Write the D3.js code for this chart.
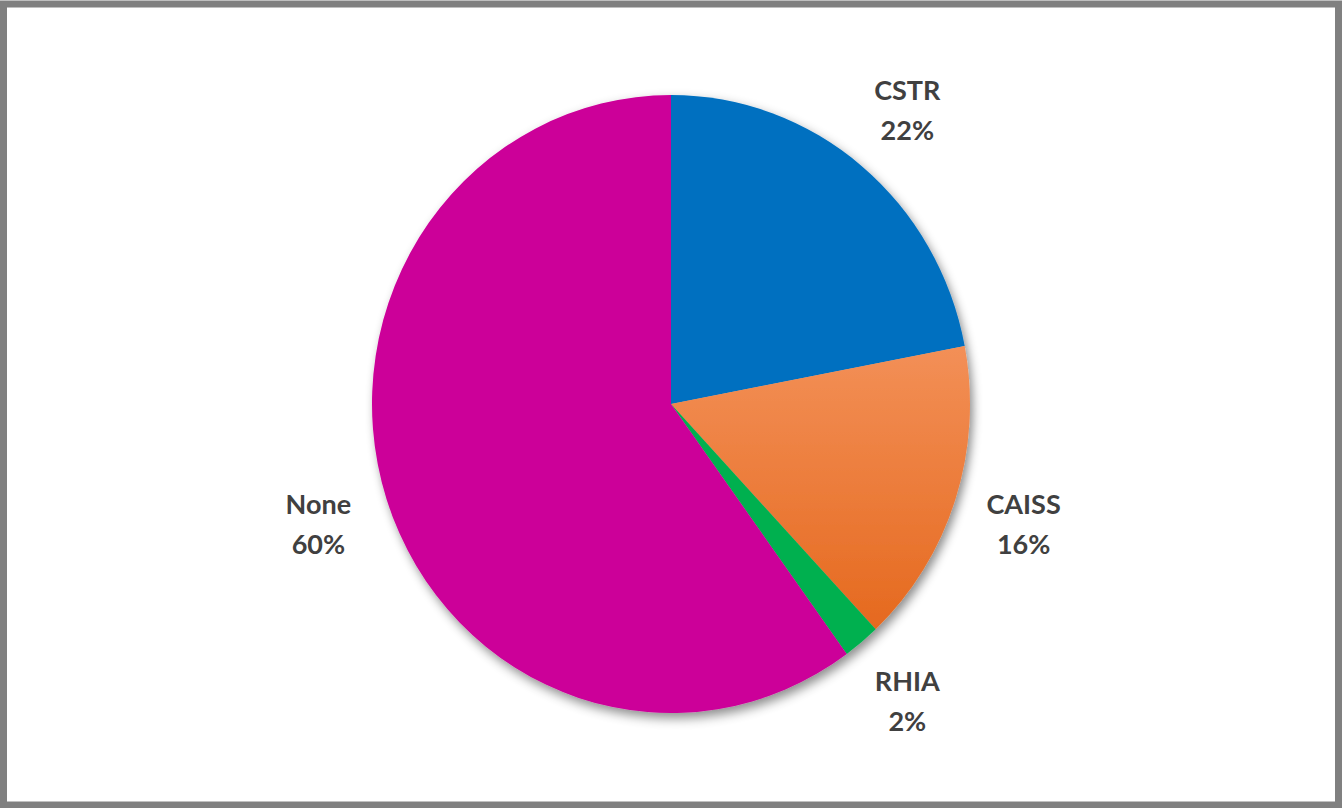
<!DOCTYPE html>
<html><head><meta charset="utf-8">
<script src="https://cdn.jsdelivr.net/npm/d3@7"></script>
<style>html,body{margin:0;padding:0;background:#fff;}svg{display:block;}</style>
</head><body>
<svg id="chart" width="1342" height="808"></svg>
<script>
const categories = ["CSTR", "CAISS", "RHIA", "None"];
const values = [22, 16, 2, 60];
const labels = ["22%", "16%", "2%", "60%"];
const colors = ["#0070C0", "url(#orangeGrad)", "#00B050", "#CC0099"];

const W = 1342, H = 808;
const svg = d3.select("#chart");
const defs = svg.append("defs");
const grad = defs.append("linearGradient").attr("id", "orangeGrad")
  .attr("gradientUnits", "userSpaceOnUse")
  .attr("x1", 0).attr("y1", -80).attr("x2", 0).attr("y2", 240);
grad.append("stop").attr("offset", "0").attr("stop-color", "#F4935C");
grad.append("stop").attr("offset", "1").attr("stop-color", "#E4661A");
const f = defs.append("filter").attr("id", "shadow")
  .attr("x", "-20%").attr("y", "-20%").attr("width", "140%").attr("height", "140%");
f.append("feDropShadow").attr("dx", 3).attr("dy", 5).attr("stdDeviation", 5)
  .attr("flood-color", "#000").attr("flood-opacity", 0.45);

// border
svg.append("rect").attr("x", 3.5).attr("y", 4).attr("width", W - 7).attr("height", H - 7)
  .attr("fill", "#fff").attr("stroke", "#808080").attr("stroke-width", 7);

const cx = 671, cy = 404, rx = 299, ry = 309;
const pie = d3.pie().sort(null).value(d => d)(values);
const arc = d3.arc().innerRadius(0).outerRadius(rx);

const g = svg.append("g").attr("transform", `translate(${cx},${cy}) scale(1,${ry / rx})`)
  .attr("filter", "url(#shadow)");
g.selectAll("path").data(pie).join("path")
  .attr("d", arc).attr("fill", (d, i) => colors[i]);

const labelR = 1.24;
const lg = svg.append("g");
pie.forEach((d, i) => {
  const a = (d.startAngle + d.endAngle) / 2;
  const x = cx + Math.sin(a) * rx * labelR;
  const y = cy - Math.cos(a) * ry * labelR;
  const t = lg.append("text").attr("x", x).attr("y", y)
    .attr("text-anchor", "middle")
    .attr("font-family", "Lato, 'Open Sans', sans-serif")
    .attr("font-weight", "bold").attr("font-size", 27).attr("fill", "#404040");
  t.append("tspan").attr("x", x).attr("dy", "-0.32em").text(categories[i]);
  t.append("tspan").attr("x", x).attr("dy", "1.48em").text(labels[i]);
});
</script>
</body></html>
